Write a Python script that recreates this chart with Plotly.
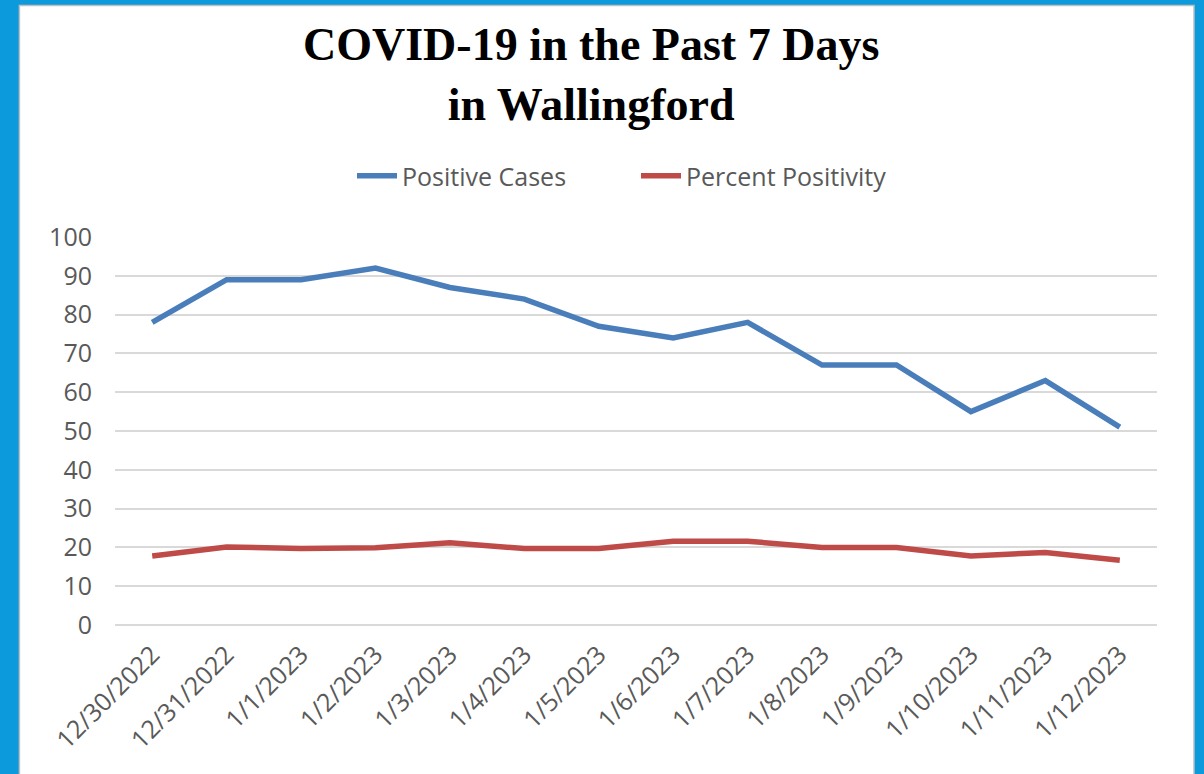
import plotly.graph_objects as go

dates = ["12/30/2022", "12/31/2022", "1/1/2023", "1/2/2023", "1/3/2023", "1/4/2023",
         "1/5/2023", "1/6/2023", "1/7/2023", "1/8/2023", "1/9/2023", "1/10/2023",
         "1/11/2023", "1/12/2023"]
positive_cases = [78, 89, 89, 92, 87, 84, 77, 74, 78, 67, 67, 55, 63, 51]
percent_positivity = [17.8, 20.1, 19.7, 19.9, 21.2, 19.7, 19.7, 21.6, 21.6, 20.0, 20.0, 17.8, 18.7, 16.7]
y_ticks = list(range(0, 101, 10))

TICK_FONT = dict(family="Open Sans", size=25, color="#595959")

fig = go.Figure()
fig.add_trace(go.Scatter(x=dates, y=positive_cases, mode="lines", name="Positive Cases",
                         line=dict(color="#4A7EBB", width=5.5)))
fig.add_trace(go.Scatter(x=dates, y=percent_positivity, mode="lines", name="Percent Positivity",
                         line=dict(color="#BE4B48", width=5.5)))

fig.update_layout(
    width=1204, height=774,
    margin=dict(l=115, r=47, t=237, b=149, autoexpand=False),
    paper_bgcolor="#0D9ADD",
    plot_bgcolor="white",
    showlegend=True,
    legend=dict(orientation="h", x=0.500, xanchor="center", y=1.157, yanchor="middle",
                font=TICK_FONT, bgcolor="rgba(0,0,0,0)", itemwidth=40, tracegroupgap=0,
                entrywidth=229),
    xaxis=dict(type="category", range=[-0.5, len(dates) - 0.5], tickangle=-45,
               tickfont=TICK_FONT, showgrid=False, showline=False, zeroline=False,
               ticks="", ticklabelstandoff=9),
    yaxis=dict(range=[0, 100], tickvals=y_ticks, tickfont=TICK_FONT,
               showgrid=True, gridcolor="#D9D9D9", gridwidth=2,
               zeroline=True, zerolinecolor="#D9D9D9", zerolinewidth=2,
               showline=False, ticks="", ticklabelstandoff=22),
    shapes=[dict(type="rect", xref="paper", yref="paper",
                 x0=-0.0917, x1=1.0355, y0=-0.6, y1=1.5966,
                 fillcolor="white", line=dict(color="#BFBFBF", width=1.5), layer="below")],
    annotations=[
        dict(text="<b>COVID-19 in the Past 7 Days<br>in Wallingford</b>", xref="paper", yref="paper",
             x=0.457, y=1.418, xanchor="center", yanchor="middle", showarrow=False,
             font=dict(family="Liberation Serif", size=46, color="black")),
    ],
)

fig.write_html("out.html", config={"displayModeBar": False},
               post_script="document.body.style.margin='0';document.body.style.overflow='hidden';")
